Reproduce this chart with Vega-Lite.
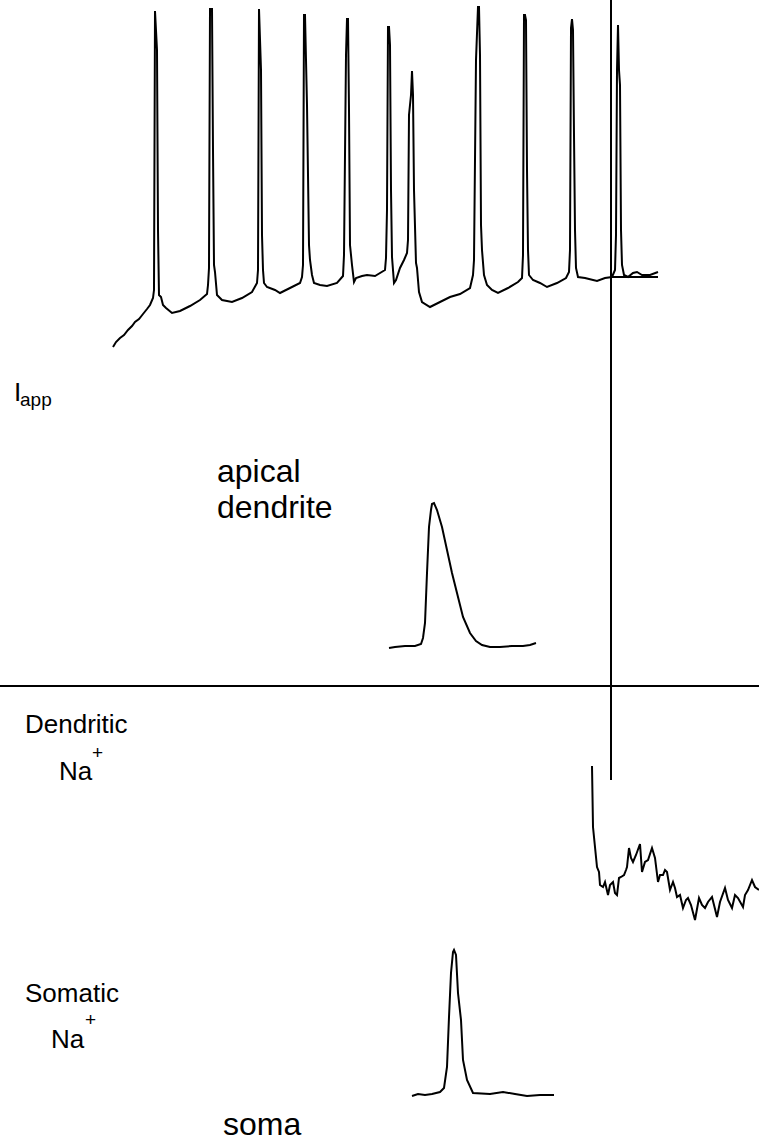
{
  "$schema": "https://vega.github.io/schema/vega-lite/v6.json",
  "width": 759,
  "height": 1146,
  "autosize": "none",
  "padding": 0,
  "background": "white",
  "config": {"view": {"stroke": null}},
  "datasets": {
    "train": [
      {"i":1,"x":113,"y":347},{"i":2,"x":116,"y":342},{"i":3,"x":120,"y":338},{"i":4,"x":124,"y":335},{"i":5,"x":128,"y":330},{"i":6,"x":132,"y":326},{"i":7,"x":135,"y":322},{"i":8,"x":139,"y":319},{"i":9,"x":143,"y":314},{"i":10,"x":147,"y":309},{"i":11,"x":150,"y":305},{"i":12,"x":153,"y":298},
      {"i":13,"x":154,"y":290},{"i":14,"x":155,"y":11},{"i":15,"x":157,"y":50},{"i":16,"x":158,"y":230},{"i":17,"x":159,"y":295},{"i":18,"x":161,"y":297},{"i":19,"x":163,"y":305},{"i":20,"x":166,"y":308},{"i":21,"x":172,"y":313},{"i":22,"x":180,"y":311},{"i":23,"x":190,"y":306},{"i":24,"x":200,"y":300},{"i":25,"x":207,"y":294},{"i":26,"x":208,"y":285},
      {"i":27,"x":209,"y":268},{"i":28,"x":210,"y":9},{"i":29,"x":212,"y":9},{"i":30,"x":213,"y":150},{"i":31,"x":214,"y":265},{"i":32,"x":215,"y":272},{"i":33,"x":217,"y":295},{"i":34,"x":222,"y":300},{"i":35,"x":232,"y":302},{"i":36,"x":242,"y":298},{"i":37,"x":252,"y":292},{"i":38,"x":257,"y":283},
      {"i":39,"x":258,"y":270},{"i":40,"x":259,"y":9},{"i":41,"x":261,"y":70},{"i":42,"x":262,"y":235},{"i":43,"x":263,"y":270},{"i":44,"x":264,"y":283},{"i":45,"x":267,"y":287},{"i":46,"x":275,"y":290},{"i":47,"x":280,"y":293},{"i":48,"x":290,"y":288},{"i":49,"x":300,"y":283},{"i":50,"x":302,"y":277},
      {"i":51,"x":303,"y":265},{"i":52,"x":304,"y":15},{"i":53,"x":305,"y":15},{"i":54,"x":307,"y":105},{"i":55,"x":309,"y":245},{"i":56,"x":310,"y":260},{"i":57,"x":312,"y":275},{"i":58,"x":314,"y":283},{"i":59,"x":320,"y":285},{"i":60,"x":327,"y":286},{"i":61,"x":337,"y":283},{"i":62,"x":343,"y":276},
      {"i":63,"x":344,"y":255},{"i":64,"x":346,"y":55},{"i":65,"x":347,"y":19},{"i":66,"x":348,"y":19},{"i":67,"x":349,"y":110},{"i":68,"x":350,"y":245},{"i":69,"x":352,"y":265},{"i":70,"x":354,"y":282},{"i":71,"x":356,"y":278},{"i":72,"x":362,"y":276},{"i":73,"x":367,"y":275},{"i":74,"x":375,"y":276},{"i":75,"x":385,"y":270},
      {"i":76,"x":386,"y":258},{"i":77,"x":387,"y":210},{"i":78,"x":388,"y":27},{"i":79,"x":389,"y":27},{"i":80,"x":390,"y":45},{"i":81,"x":391,"y":190},{"i":82,"x":392,"y":257},{"i":83,"x":394,"y":283},{"i":84,"x":396,"y":280},{"i":85,"x":400,"y":268},{"i":86,"x":404,"y":260},{"i":87,"x":407,"y":253},
      {"i":88,"x":408,"y":240},{"i":89,"x":409,"y":115},{"i":90,"x":411,"y":95},{"i":91,"x":412,"y":71},{"i":92,"x":413,"y":95},{"i":93,"x":414,"y":190},{"i":94,"x":416,"y":263},{"i":95,"x":417,"y":268},{"i":96,"x":419,"y":292},{"i":97,"x":422,"y":302},{"i":98,"x":430,"y":307},{"i":99,"x":440,"y":302},{"i":100,"x":450,"y":297},{"i":101,"x":460,"y":294},{"i":102,"x":470,"y":288},{"i":103,"x":473,"y":275},
      {"i":104,"x":474,"y":260},{"i":105,"x":476,"y":60},{"i":106,"x":478,"y":7},{"i":107,"x":479,"y":7},{"i":108,"x":480,"y":55},{"i":109,"x":481,"y":225},{"i":110,"x":482,"y":250},{"i":111,"x":484,"y":275},{"i":112,"x":487,"y":285},{"i":113,"x":492,"y":290},{"i":114,"x":498,"y":293},{"i":115,"x":508,"y":288},{"i":116,"x":518,"y":282},{"i":117,"x":522,"y":278},
      {"i":118,"x":523,"y":255},{"i":119,"x":524,"y":15},{"i":120,"x":525,"y":15},{"i":121,"x":526,"y":20},{"i":122,"x":527,"y":170},{"i":123,"x":528,"y":250},{"i":124,"x":529,"y":275},{"i":125,"x":533,"y":280},{"i":126,"x":540,"y":283},{"i":127,"x":547,"y":287},{"i":128,"x":557,"y":283},{"i":129,"x":566,"y":278},{"i":130,"x":569,"y":272},
      {"i":131,"x":570,"y":250},{"i":132,"x":571,"y":28},{"i":133,"x":572,"y":19},{"i":134,"x":573,"y":30},{"i":135,"x":574,"y":135},{"i":136,"x":575,"y":230},{"i":137,"x":576,"y":268},{"i":138,"x":578,"y":277},{"i":139,"x":585,"y":278},{"i":140,"x":597,"y":281},{"i":141,"x":605,"y":278},{"i":142,"x":612,"y":277},{"i":143,"x":615,"y":270},
      {"i":144,"x":616,"y":235},{"i":145,"x":617,"y":70},{"i":146,"x":618,"y":25},{"i":147,"x":619,"y":70},{"i":148,"x":620,"y":85},{"i":149,"x":621,"y":230},{"i":150,"x":622,"y":265},{"i":151,"x":624,"y":275},{"i":152,"x":628,"y":277},{"i":153,"x":633,"y":273},{"i":154,"x":637,"y":272},{"i":155,"x":642,"y":275},{"i":156,"x":650,"y":275},{"i":157,"x":658,"y":272}
    ],
    "apical": [
      {"i":1,"x":389,"y":648},{"i":2,"x":395,"y":647},{"i":3,"x":405,"y":646},{"i":4,"x":415,"y":646},{"i":5,"x":421,"y":644},{"i":6,"x":423,"y":638},{"i":7,"x":425,"y":623},{"i":8,"x":427,"y":573},{"i":9,"x":429,"y":527},{"i":10,"x":431,"y":510},{"i":11,"x":432,"y":504},{"i":12,"x":434,"y":503},{"i":13,"x":437,"y":510},{"i":14,"x":442,"y":527},{"i":15,"x":447,"y":550},{"i":16,"x":452,"y":573},{"i":17,"x":457,"y":593},{"i":18,"x":463,"y":617},{"i":19,"x":470,"y":633},{"i":20,"x":476,"y":641},{"i":21,"x":482,"y":645},{"i":22,"x":490,"y":647},{"i":23,"x":500,"y":647},{"i":24,"x":512,"y":646},{"i":25,"x":523,"y":646},{"i":26,"x":530,"y":645},{"i":27,"x":536,"y":643}
    ],
    "dend": [
      {"i":1,"x":592,"y":766},{"i":2,"x":593,"y":827},{"i":3,"x":597,"y":867},{"i":4,"x":599,"y":872},{"i":5,"x":600,"y":885},{"i":6,"x":603,"y":887},{"i":7,"x":605,"y":882},{"i":8,"x":608,"y":895},{"i":9,"x":610,"y":885},{"i":10,"x":613,"y":882},{"i":11,"x":615,"y":893},{"i":12,"x":617,"y":895},{"i":13,"x":619,"y":878},{"i":14,"x":621,"y":877},{"i":15,"x":624,"y":875},{"i":16,"x":626,"y":870},{"i":17,"x":627,"y":867},{"i":18,"x":629,"y":848},{"i":19,"x":631,"y":858},{"i":20,"x":633,"y":862},{"i":21,"x":636,"y":855},{"i":22,"x":640,"y":844},{"i":23,"x":642,"y":872},{"i":24,"x":645,"y":862},{"i":25,"x":648,"y":860},{"i":26,"x":652,"y":848},{"i":27,"x":655,"y":858},{"i":28,"x":658,"y":882},{"i":29,"x":660,"y":875},{"i":30,"x":663,"y":875},{"i":31,"x":665,"y":870},{"i":32,"x":667,"y":872},{"i":33,"x":670,"y":890},{"i":34,"x":673,"y":882},{"i":35,"x":675,"y":888},{"i":36,"x":677,"y":897},{"i":37,"x":680,"y":895},{"i":38,"x":683,"y":908},{"i":39,"x":686,"y":900},{"i":40,"x":688,"y":898},{"i":41,"x":691,"y":905},{"i":42,"x":695,"y":920},{"i":43,"x":699,"y":898},{"i":44,"x":702,"y":905},{"i":45,"x":705,"y":908},{"i":46,"x":708,"y":902},{"i":47,"x":712,"y":897},{"i":48,"x":717,"y":917},{"i":49,"x":720,"y":902},{"i":50,"x":725,"y":888},{"i":51,"x":728,"y":900},{"i":52,"x":732,"y":908},{"i":53,"x":735,"y":895},{"i":54,"x":738,"y":898},{"i":55,"x":743,"y":907},{"i":56,"x":745,"y":895},{"i":57,"x":748,"y":890},{"i":58,"x":752,"y":880},{"i":59,"x":755,"y":887},{"i":60,"x":759,"y":890}
    ],
    "soma": [
      {"i":1,"x":412,"y":1096},{"i":2,"x":418,"y":1094},{"i":3,"x":425,"y":1095},{"i":4,"x":432,"y":1094},{"i":5,"x":440,"y":1092},{"i":6,"x":444,"y":1088},{"i":7,"x":447,"y":1067},{"i":8,"x":449,"y":1017},{"i":9,"x":451,"y":973},{"i":10,"x":453,"y":952},{"i":11,"x":454,"y":950},{"i":12,"x":456,"y":955},{"i":13,"x":458,"y":993},{"i":14,"x":461,"y":1020},{"i":15,"x":463,"y":1060},{"i":16,"x":467,"y":1080},{"i":17,"x":473,"y":1093},{"i":18,"x":490,"y":1094},{"i":19,"x":503,"y":1092},{"i":20,"x":515,"y":1094},{"i":21,"x":527,"y":1096},{"i":22,"x":540,"y":1095},{"i":23,"x":554,"y":1095}
    ],
    "hrules": [
      {"x":0,"x2":759,"y":686},
      {"x":612,"x2":658,"y":277}
    ],
    "vrules": [
      {"x":611,"y":0,"y2":780}
    ],
    "bigText": [
      {"label":"apical","x":217,"y":482},
      {"label":"dendrite","x":217,"y":518},
      {"label":"soma","x":223,"y":1135}
    ],
    "midText": [
      {"label":"I","x":14,"y":401},
      {"label":"Dendritic","x":25,"y":733},
      {"label":"Na","x":59,"y":780},
      {"label":"Somatic","x":25,"y":1002},
      {"label":"Na","x":51,"y":1048}
    ],
    "smallText": [
      {"label":"app","x":20,"y":406},
      {"label":"+","x":92,"y":759},
      {"label":"+","x":85,"y":1026}
    ]
  },
  "layer": [
    {
      "data": {"name": "train"},
      "mark": {"type": "line", "color": "black", "strokeWidth": 2, "interpolate": "linear"},
      "encoding": {
        "x": {"field": "x", "type": "quantitative", "scale": {"domain": [0, 759], "nice": false, "zero": false}, "axis": null},
        "y": {"field": "y", "type": "quantitative", "scale": {"domain": [0, 1146], "nice": false, "zero": false, "reverse": true}, "axis": null},
        "order": {"field": "i", "type": "quantitative"}
      }
    },
    {
      "data": {"name": "apical"},
      "mark": {"type": "line", "color": "black", "strokeWidth": 2},
      "encoding": {
        "x": {"field": "x", "type": "quantitative"},
        "y": {"field": "y", "type": "quantitative"},
        "order": {"field": "i", "type": "quantitative"}
      }
    },
    {
      "data": {"name": "dend"},
      "mark": {"type": "line", "color": "black", "strokeWidth": 2},
      "encoding": {
        "x": {"field": "x", "type": "quantitative"},
        "y": {"field": "y", "type": "quantitative"},
        "order": {"field": "i", "type": "quantitative"}
      }
    },
    {
      "data": {"name": "soma"},
      "mark": {"type": "line", "color": "black", "strokeWidth": 2},
      "encoding": {
        "x": {"field": "x", "type": "quantitative"},
        "y": {"field": "y", "type": "quantitative"},
        "order": {"field": "i", "type": "quantitative"}
      }
    },
    {
      "data": {"name": "hrules"},
      "mark": {"type": "rule", "color": "black", "strokeWidth": 2},
      "encoding": {
        "x": {"field": "x", "type": "quantitative"},
        "x2": {"field": "x2"},
        "y": {"field": "y", "type": "quantitative"}
      }
    },
    {
      "data": {"name": "vrules"},
      "mark": {"type": "rule", "color": "black", "strokeWidth": 2},
      "encoding": {
        "x": {"field": "x", "type": "quantitative"},
        "y": {"field": "y", "type": "quantitative"},
        "y2": {"field": "y2"}
      }
    },
    {
      "data": {"name": "bigText"},
      "mark": {"type": "text", "font": "Liberation Sans", "fontSize": 32, "align": "left", "baseline": "alphabetic", "color": "black"},
      "encoding": {
        "x": {"field": "x", "type": "quantitative"},
        "y": {"field": "y", "type": "quantitative"},
        "text": {"field": "label"}
      }
    },
    {
      "data": {"name": "midText"},
      "mark": {"type": "text", "font": "Liberation Sans", "fontSize": 26, "align": "left", "baseline": "alphabetic", "color": "black"},
      "encoding": {
        "x": {"field": "x", "type": "quantitative"},
        "y": {"field": "y", "type": "quantitative"},
        "text": {"field": "label"}
      }
    },
    {
      "data": {"name": "smallText"},
      "mark": {"type": "text", "font": "Liberation Sans", "fontSize": 19, "align": "left", "baseline": "alphabetic", "color": "black"},
      "encoding": {
        "x": {"field": "x", "type": "quantitative"},
        "y": {"field": "y", "type": "quantitative"},
        "text": {"field": "label"}
      }
    }
  ]
}
